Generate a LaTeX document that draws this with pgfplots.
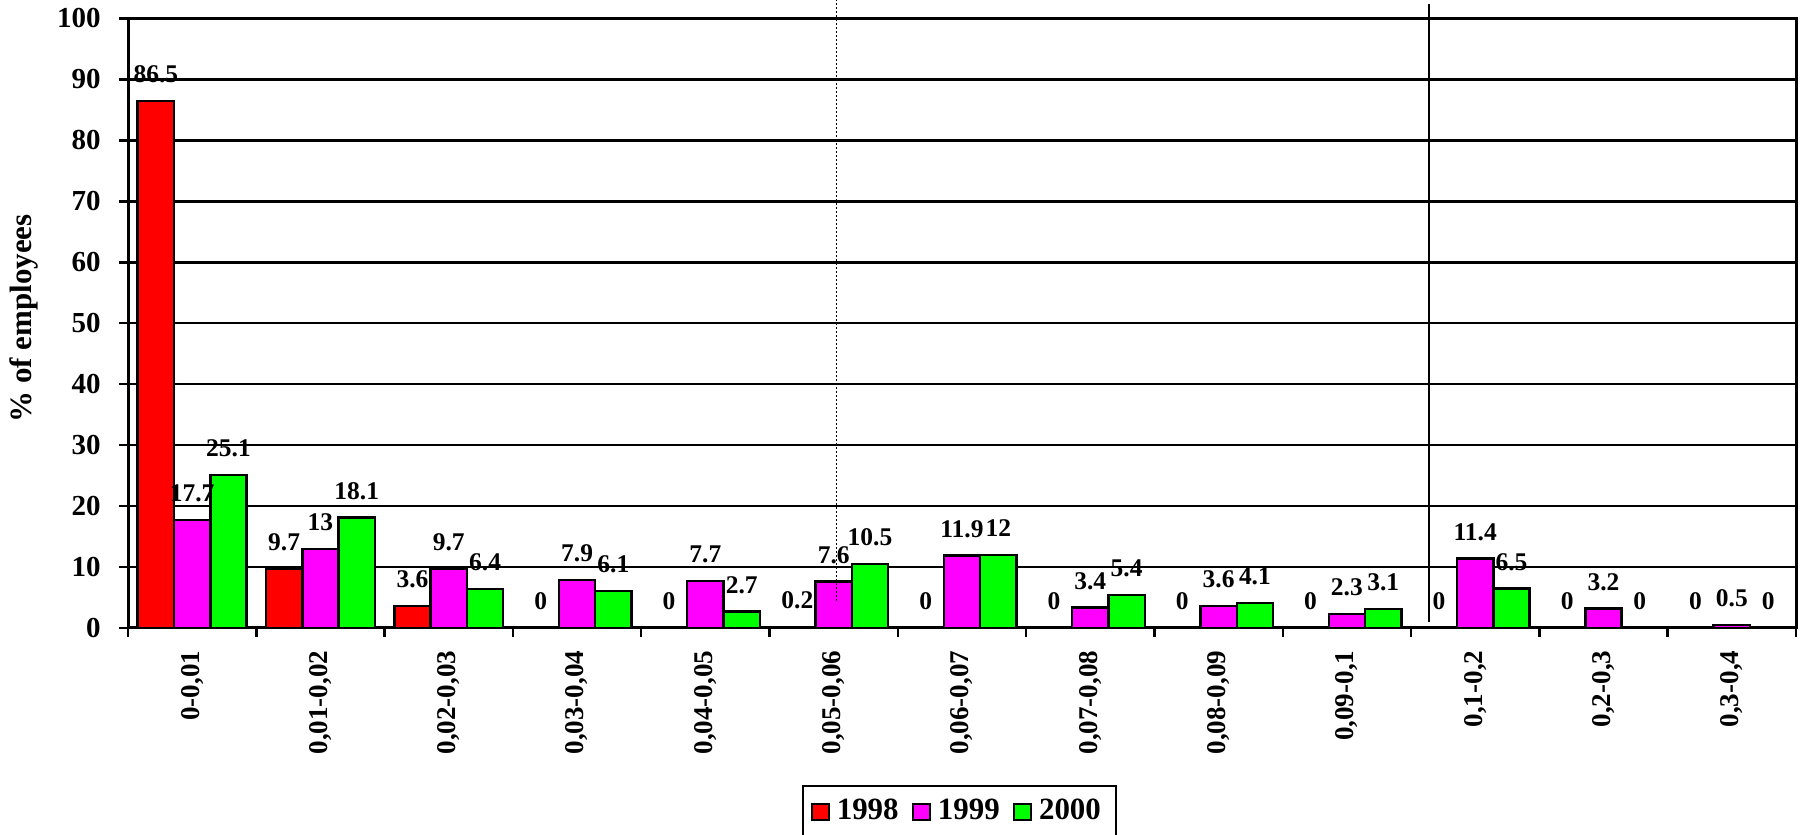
\documentclass[border=0pt]{standalone}
\usepackage{fontspec}
\setmainfont{Liberation Serif}
\usepackage{pgfplots}
\pgfplotsset{compat=1.18}
\definecolor{cRed}{RGB}{255,0,0}
\definecolor{cMag}{RGB}{255,0,255}
\definecolor{cGrn}{RGB}{0,255,0}
\newcommand\fs[1]{\fontsize{#1}{#1}\selectfont\bfseries}
\pgfplotsset{sq/.style={legend image code/.code={\draw[##1, line width=0.2mm] (0mm,-0.83mm) rectangle (1.67mm,0.83mm);}}}
\begin{document}
\begin{tikzpicture}
\begin{axis}[
  at={(12.8mm,20.7mm)}, anchor=south west,
  scale only axis, width=166.8mm, height=60.95mm,
  xmin=-0.5, xmax=12.5, ymin=0, ymax=100,
  ybar, bar width=0.283,
  clip=false,
  /pgf/number format/assume math mode=true,
  axis line style={line width=0.3mm, black},
  ymajorgrids, grid style={line width=0.25mm, black},
  ytick={0,10,...,100},
  xtick={-0.5,0.5,...,12.5}, xticklabels={},
  extra x ticks={0,1,...,12},
  extra x tick labels={{0-0,01},{0,01-0,02},{0,02-0,03},{0,03-0,04},{0,04-0,05},{0,05-0,06},{0,06-0,07},{0,07-0,08},{0,08-0,09},{0,09-0,1},{0,1-0,2},{0,2-0,3},{0,3-0,4}},
  extra x tick style={major tick length=0pt, xticklabel style={rotate=90, anchor=east, inner xsep=2.2mm, inner ysep=0pt, font=\fs{7.7pt}}},
  tick align=outside, major tick length=0.9mm, tick style={line width=0.25mm, black},
  xtick pos=left, ytick pos=left,
  yticklabel style={font=\fs{8.25pt}, xshift=-0.6mm},
  ylabel={\% of employees},
  ylabel style={at={(axis description cs:-0.0624,0.508)}, anchor=center, font=\fs{8.8pt}},
  nodes near coords,
  every node near coord/.append style={font=\fs{7.25pt}, anchor=center, yshift=2.65mm, inner sep=0pt},
  legend columns=3,
  legend style={at={(axis description cs:0.4985,-0.2576)}, anchor=north, draw=black, line width=0.25mm, font=\fs{8.8pt}, inner xsep=0.8mm, inner ysep=0.6mm,
    /tikz/every even column/.append style={column sep=0.65mm}},
]
\addplot[fill=cRed, draw=black, line width=0.25mm, bar shift=-0.283, sq] coordinates {
(0,86.5) (1,9.7) (2,3.6) (3,0) (4,0) (5,0.2) (6,0) (7,0) (8,0) (9,0) (10,0) (11,0) (12,0)};
\addplot[fill=cMag, draw=black, line width=0.25mm, bar shift=0, sq] coordinates {
(0,17.7) (1,13) (2,9.7) (3,7.9) (4,7.7) (5,7.6) (6,11.9) (7,3.4) (8,3.6) (9,2.3) (10,11.4) (11,3.2) (12,0.5)};
\addplot[fill=cGrn, draw=black, line width=0.25mm, bar shift=0.283, sq] coordinates {
(0,25.1) (1,18.1) (2,6.4) (3,6.1) (4,2.7) (5,10.5) (6,12) (7,5.4) (8,4.1) (9,3.1) (10,6.5) (11,0) (12,0)};
\legend{1998,1999,2000}
\draw[line width=0.2mm, black] (axis cs:9.64,1) -- (axis cs:9.64,102.4);
\draw[line width=0.15mm, black, dash pattern=on 0.15mm off 0.25mm] (axis cs:5.02,4.5) -- (axis cs:5.02,103);
\end{axis}
\pgfresetboundingbox
\useasboundingbox (0,0) rectangle (180mm,83.5mm);
\end{tikzpicture}
\end{document}
